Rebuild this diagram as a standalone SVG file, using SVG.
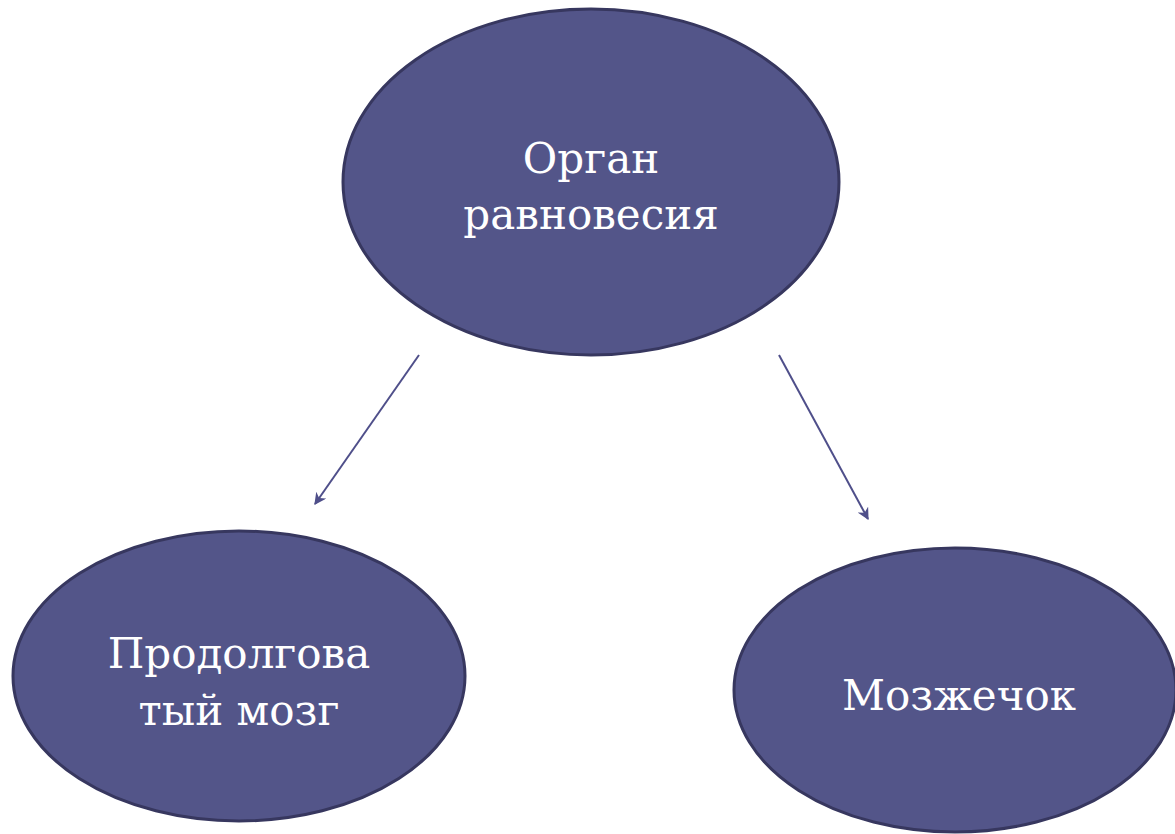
<svg xmlns="http://www.w3.org/2000/svg" width="1175" height="834" viewBox="0 0 1175 834">
<style>
.node{fill:#535589;stroke:#37375f;stroke-width:3}
.lbl{font-family:"DejaVu Serif","Liberation Serif",serif;font-size:42px;fill:#ffffff;text-anchor:middle}
.conn{stroke:#4f4f8a;stroke-width:2;fill:none;marker-end:url(#ah)}
</style>
<defs>
<marker id="ah" viewBox="0 0 10 10" refX="9" refY="5" markerWidth="12" markerHeight="12" orient="auto" markerUnits="userSpaceOnUse">
<path d="M0,0 L10,5 L0,10 L3,5 Z" fill="#4f4f8a"/>
</marker>
</defs>
<rect width="1175" height="834" fill="#ffffff"/>
<g id="connectors">
<line class="conn" x1="419" y1="355" x2="315" y2="504"/>
<line class="conn" x1="779" y1="355" x2="868" y2="519"/>
</g>
<g id="organ">
<ellipse class="node" cx="591" cy="182" rx="248" ry="173"/>
<text class="lbl" x="591" y="173">Орган</text>
<text class="lbl" x="591" y="229">равновесия</text>
</g>
<g id="medulla">
<ellipse class="node" cx="239" cy="676" rx="226" ry="145"/>
<text class="lbl" x="239" y="668">Продолгова</text>
<text class="lbl" x="239" y="725">тый мозг</text>
</g>
<g id="cerebellum">
<ellipse class="node" cx="955" cy="690" rx="221" ry="142"/>
<text class="lbl" x="959" y="710">Мозжечок</text>
</g>
</svg>
